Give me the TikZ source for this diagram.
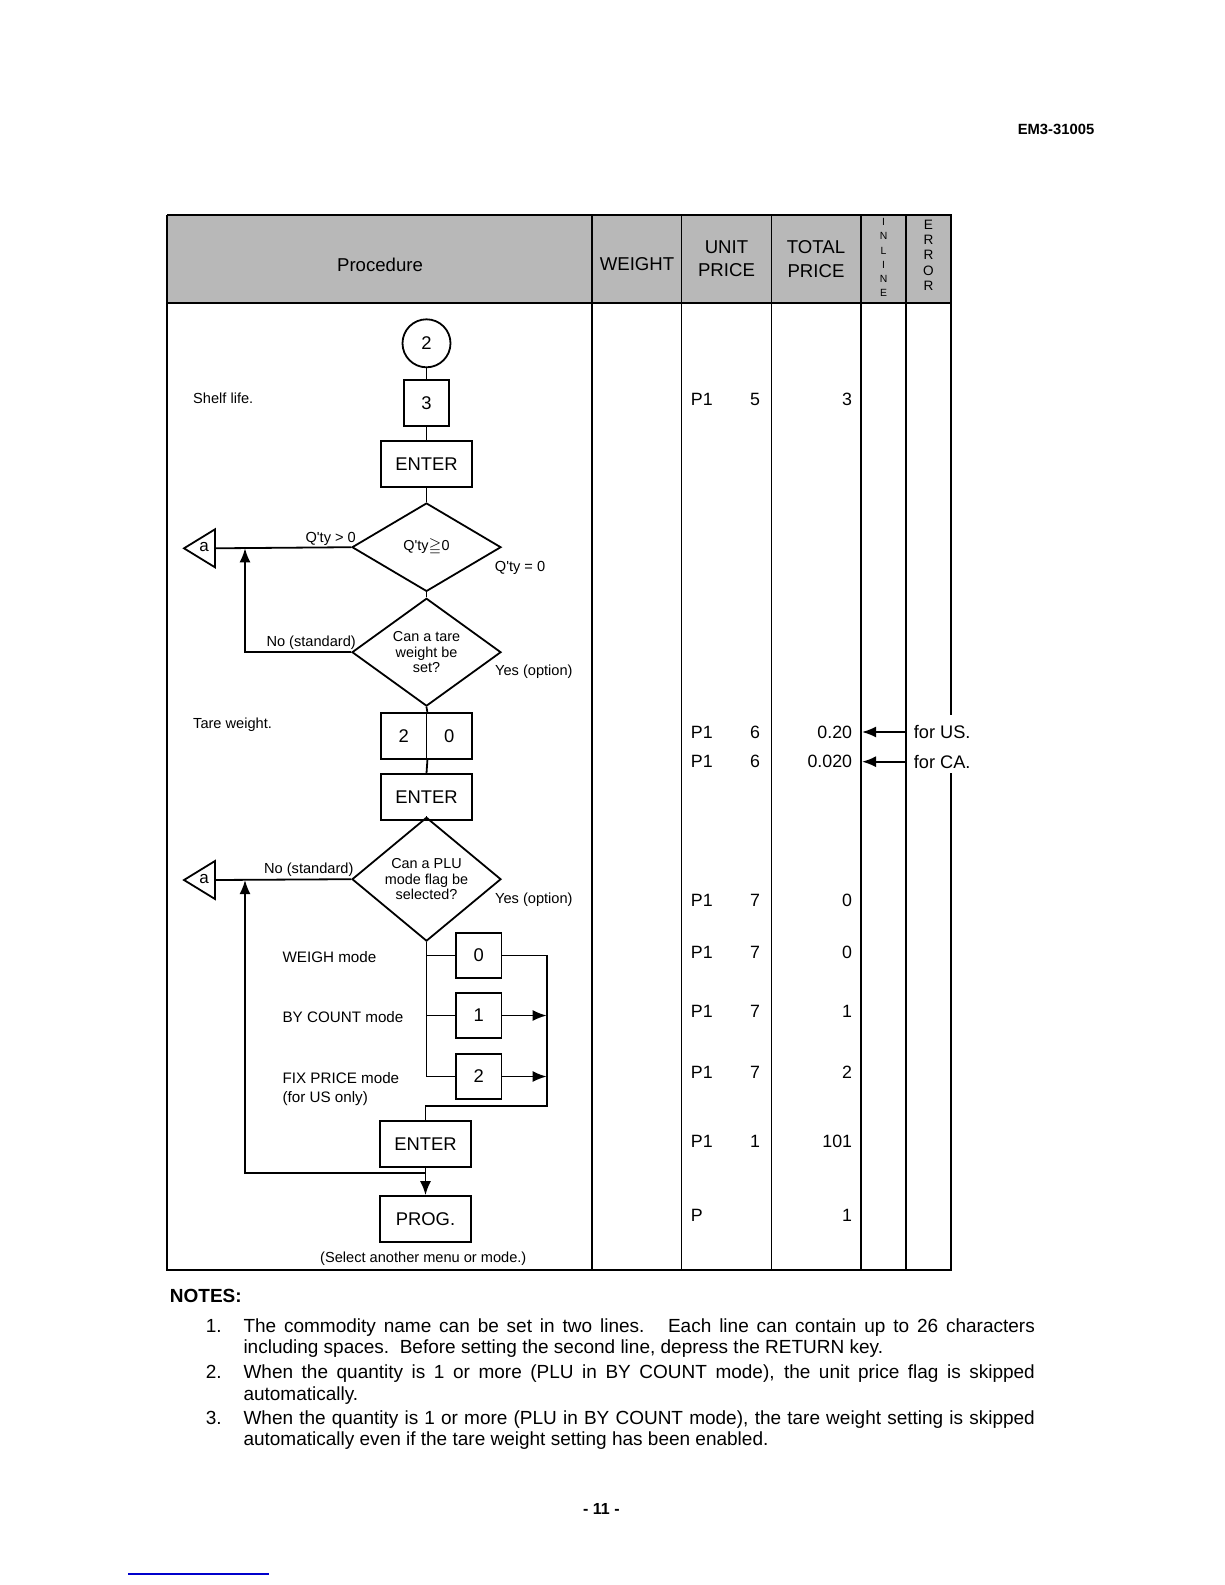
\documentclass[tikz,border=0pt]{standalone}
\usepackage{amssymb}
\usepackage{fontspec}
\setmainfont{Liberation Sans}
\usetikzlibrary{shapes.geometric,arrows.meta}
\tikzstyle{keybox}=[draw, minimum width=22.75pt, minimum height=23pt, inner sep=0pt, font=\fontsize{9.2}{11}\selectfont]
\tikzstyle{enterbox}=[keybox, minimum width=45.5pt]
\tikzstyle{decision}=[diamond, draw, minimum width=74.5pt, minimum height=44.2pt, inner sep=0pt, align=center, font=\fontsize{7.2}{7.6}\selectfont]
\tikzstyle{txt}=[inner sep=0pt, font=\fontsize{7.3}{8}\selectfont]
\tikzstyle{modetxt}=[inner sep=0pt, font=\fontsize{7.6}{9.5}\selectfont]
\tikzstyle{cell}=[inner sep=0pt, font=\fontsize{8.9}{10}\selectfont]
\tikzstyle{hdr}=[inner sep=0pt, align=center, font=\fontsize{9.3}{11.6}\selectfont]
\tikzstyle{notetxt}=[inner sep=0pt, anchor=north west, text width=395.7pt, align=justify, font=\fontsize{9.5}{10.7}\selectfont]
\tikzstyle{noteno}=[inner sep=0pt, anchor=north west, font=\fontsize{9.5}{10.7}\selectfont]
\tikzstyle{arr}=[-{Latex[length=7pt,width=5.5pt]}]

\begin{document}
\begin{tikzpicture}[x=0.5pt, y=-0.5pt, line width=0.9pt]
\useasboundingbox (0,0) rectangle (1225,1585);

\node[inner sep=0pt, font=\fontsize{7.4}{9}\selectfont\bfseries] (docno) at (1056,129.4) {EM3-31005};

\fill[black!28] (167,215) rectangle (951,303);
\draw (167,215) -- (951,215) -- (951,715);
\draw (951,773) -- (951,1270) -- (167,1270) -- (167,215);
\draw (167,303) -- (951,303);
\foreach \x in {592,681.5,771.5,861,906}
    \draw (\x,215) -- (\x,1270);

\node[hdr] (hproc) at (380,265)   {Procedure};
\node[hdr] (hwt)   at (637,264)   {WEIGHT};
\node[hdr] (hunit) at (726.5,259) {UNIT\\PRICE};
\node[hdr] (htot)  at (816,259)   {TOTAL\\PRICE};
\node[hdr, font=\fontsize{5.2}{7.1}\selectfont] (hinl) at (883.5,257.7) {I\\N\\L\\I\\N\\E};
\node[hdr, font=\fontsize{6.8}{7.7}\selectfont] (herr) at (928.5,255.2) {E\\R\\R\\O\\R};

\node[keybox, circle, minimum size=24pt] (c2) at (426.5,343.3) {2};
\node[keybox]   (k3)   at (426.5,403.3) {3};
\node[enterbox] (ent1) at (426.5,464.3) {ENTER};
\node[decision] (dq)   at (426.5,547.2) {Q\textquotesingle ty$\geqq$0};
\node[decision] (dtare) at (426.5,652.2) {Can a tare\\weight be\\set?};
\node[keybox]   (t2)   at (403.75,736.3) {2};
\node[keybox]   (t0)   at (449.25,736.3) {0};
\node[enterbox] (ent2) at (426.5,797)   {ENTER};
\node[decision] (dplu) at (426.5,879.2) {Can a PLU\\mode flag be\\selected?};
\node[keybox, minimum height=22.5pt] (m0) at (478.7,955.5)  {0};
\node[keybox, minimum height=22.5pt] (m1) at (478.7,1015.5) {1};
\node[keybox, minimum height=22.5pt] (m2) at (478.7,1076.5) {2};
\node[enterbox] (ent3) at (425.5,1144)  {ENTER};
\node[enterbox] (prog) at (425.5,1219)  {PROG.};

\draw (215,529.3) -- (184,548.3) -- (215,567.3) -- cycle;
\draw (215,861) -- (184,880) -- (215,899) -- cycle;
\node[keybox, draw=none, font=\fontsize{8.5}{10}\selectfont] (a1) at (204,547.3) {a};
\node[keybox, draw=none, font=\fontsize{8.5}{10}\selectfont] (a2) at (204,879) {a};
\coordinate (a1in) at (215,548.3);
\coordinate (a2in) at (215,880);
\coordinate (j1) at (245,548.3);
\coordinate (j2) at (245,880);
\coordinate (jb) at (425.5,1172.7);
\coordinate (col) at (546.7,1105.7);

\node[txt, anchor=west] (lshelf) at (192.3,398.3) {Shelf life.};
\node[txt, anchor=west] (ltare)  at (192.3,725)   {Tare weight.};
\node[txt, anchor=east] (lgt)    at (356.7,539.3) {Q\textquotesingle ty > 0};
\node[txt, anchor=west] (leq)    at (494,568.3)   {Q\textquotesingle ty = 0};
\node[txt, anchor=east] (lno1)   at (356.7,642.7) {No (standard)};
\node[txt, anchor=west] (lyes1)  at (494.3,671.7) {Yes (option)};
\node[txt, anchor=east] (lno2)   at (354.3,870)   {No (standard)};
\node[txt, anchor=west] (lyes2)  at (494.3,900)   {Yes (option)};
\node[modetxt, anchor=west] (lweigh) at (281.7,957)    {WEIGH mode};
\node[modetxt, anchor=west] (lcount) at (281.7,1016.7) {BY COUNT mode};
\node[modetxt, anchor=north west, align=left] (lfix) at (281.7,1071.5) {FIX PRICE mode\\(for US only)};
\node[txt] (lsel) at (423.3,1259) {(Select another menu or mode.)};

\draw (c2) -- (k3);
\draw (k3) -- (ent1);
\draw (ent1) -- (dq);
\draw (dq) -- (dtare);
\draw (dq.west) -- (a1in);
\draw[arr] (dtare.west) -| (j1);
\draw (dtare.south) -- (t2.north east);
\draw (t2.south east) -- (ent2.north);
\draw (ent2) -- (dplu);
\draw (dplu.west) -- (a2in);
\draw (dplu.south) |- (m2.west);
\draw (m0.west -| dplu.south) -- (m0.west);
\draw (m1.west -| dplu.south) -- (m1.west);
\draw (m0.east) -| (col) -| (ent3.north);
\draw[arr] (m1.east) -- (m1.east -| col);
\draw[arr] (m2.east) -- (m2.east -| col);
\draw[arr] (ent3) -- (prog);
\draw[arr] (jb) -| (j2);

\foreach \y/\p/\u/\t [count=\i] in {399.3/P1/5/3, 732/P1/6/0.20, 761.7/P1/6/0.020, 900/P1/7/0,
        952.7/P1/7/0, 1011.7/P1/7/1, 1072.7/P1/7/2, 1141/P1/1/101, 1215.7/P//1} {
    \node[cell, anchor=west] (p\i) at (690,\y) {\p};
    \node[cell] (u\i) at (755,\y) {\u};
    \node[cell, anchor=east, inner xsep=4.5pt] (v\i) at (862,\y) {\t};
}
\node[cell, anchor=west, inner xsep=4pt, font=\fontsize{9.1}{10}\selectfont] (fus) at (905,732)   {for US.};
\node[cell, anchor=west, inner xsep=4pt, font=\fontsize{9.1}{10}\selectfont] (fca) at (905,761.7) {for CA.};
\draw[arr] (fus.west) -- (v2.east);
\draw[arr] (fca.west) -- (v3.east);

\node[inner sep=0pt, anchor=west, font=\fontsize{9.5}{10.7}\selectfont\bfseries] (notes) at (169,1296) {NOTES:};
\node[noteno] (n1no) at (205,1316.5) {\strut 1.};
\node[noteno] (n2no) at (205,1363)   {\strut 2.};
\node[noteno] (n3no) at (205,1408.5) {\strut 3.};
\node[notetxt] (n1) at (242.6,1316.5) {\strut The commodity name can be set in two lines.\ \ \ Each line can contain up to 26 characters\linebreak including spaces.\ \ Before setting the second line, depress the RETURN key.};
\node[notetxt] (n2) at (242.6,1363) {\strut When the quantity is 1 or more (PLU in BY COUNT mode), the unit price flag is skipped\linebreak automatically.};
\node[notetxt] (n3) at (242.6,1408.5) {\strut When the quantity is 1 or more (PLU in BY COUNT mode), the tare weight setting is skipped\linebreak automatically even if the tare weight setting has been enabled.};

\node[inner sep=0pt, font=\fontsize{8}{10}\selectfont\bfseries] (pageno) at (601.4,1509) {- 11 -};
\draw[blue!80!black, line width=0.6pt] (128,1574) -- (269,1574);
\end{tikzpicture}
\end{document}
